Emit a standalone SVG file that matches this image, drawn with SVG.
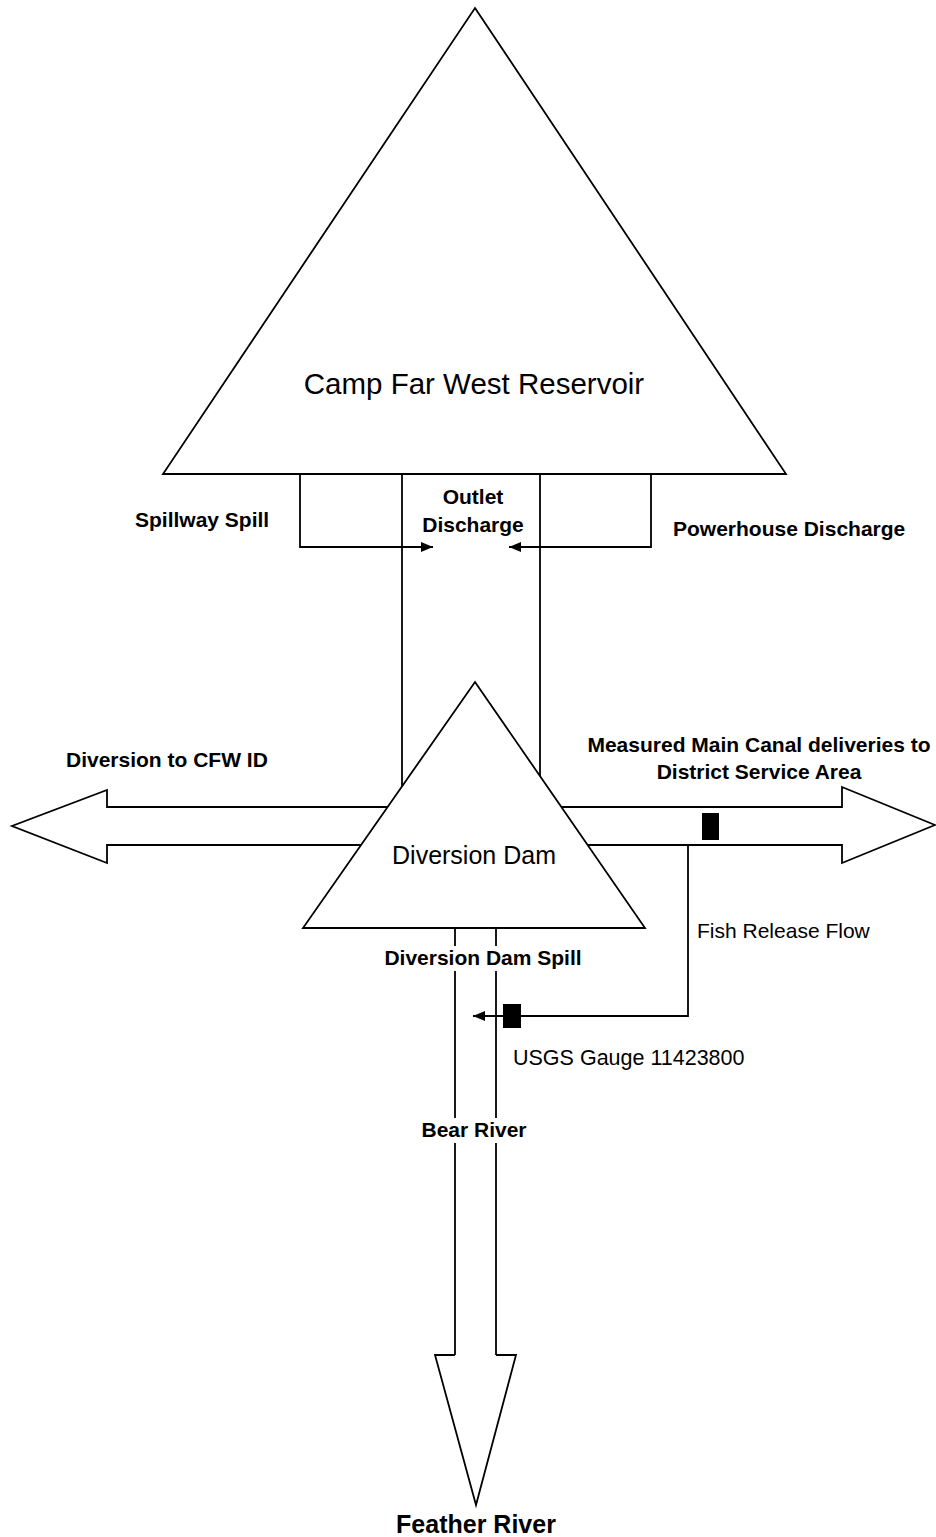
<svg xmlns="http://www.w3.org/2000/svg" width="936" height="1537" viewBox="0 0 936 1537">
<style>
.ln{fill:none;stroke:#000;stroke-width:1.8}
.sh{fill:#fff;stroke:#000;stroke-width:1.8}
.b{font-family:"Liberation Sans",Arial,sans-serif;font-weight:bold;font-size:21px;fill:#000}
.r{font-family:"Liberation Sans",Arial,sans-serif;font-size:21px;fill:#000}
</style>
<defs>
<marker id="ah" viewBox="0 0 12 10" refX="12" refY="5" markerWidth="12" markerHeight="10" markerUnits="userSpaceOnUse" orient="auto">
<path d="M0,0 L12,5 L0,10 z" fill="#000"/>
</marker>
</defs>
<rect width="936" height="1537" fill="#fff"/>
<g id="connectors">
<path class="ln" d="M300,474 V547 H433" marker-end="url(#ah)"/>
<path class="ln" d="M651,474 V547 H509" marker-end="url(#ah)"/>
<path class="ln" d="M402,474 V786"/>
<path class="ln" d="M540,474 V776"/>
<path class="sh" d="M387,807 H107 V790 L12,826 L107,863 V845 H362"/>
<path class="sh" d="M561,807 H842 V787 L935,825 L842,863 V845 H588"/>
<path class="ln" d="M688,845 V1016 H473" marker-end="url(#ah)"/>
<path class="ln" d="M455,928 V946 M455,971 V1118 M455,1143 V1355"/>
<path class="ln" d="M496,928 V946 M496,971 V1118 M496,1143 V1355"/>
<path class="sh" d="M455,1355 H435 L476,1505 L516,1355 H496"/>
</g>
<g id="reservoir">
<polygon class="sh" points="475,8 786,474 163,474"/>
<text class="r" x="474" y="394" text-anchor="middle" style="font-size:29.5px">Camp Far West Reservoir</text>
</g>
<g id="diversion-dam">
<polygon class="sh" points="475,682 645,928 303,928"/>
<text class="r" x="474" y="864" text-anchor="middle" style="font-size:25px">Diversion Dam</text>
</g>
<g id="gauge-canal">
<rect x="702" y="813" width="17" height="27" fill="#000"/>
</g>
<g id="gauge-usgs">
<rect x="503" y="1004" width="18" height="24" fill="#000"/>
</g>
<g id="labels">
<text class="b" x="135" y="527">Spillway Spill</text>
<text class="b" x="473" y="504" text-anchor="middle">Outlet</text>
<text class="b" x="473" y="532" text-anchor="middle">Discharge</text>
<text class="b" x="673" y="536">Powerhouse Discharge</text>
<text class="b" x="66" y="767">Diversion to CFW ID</text>
<text class="b" x="759" y="752" text-anchor="middle">Measured Main Canal deliveries to</text>
<text class="b" x="759" y="779" text-anchor="middle">District Service Area</text>
<text class="r" x="697" y="938">Fish Release Flow</text>
<text class="b" x="483" y="965" text-anchor="middle">Diversion Dam Spill</text>
<text class="r" x="513" y="1065" style="font-size:21.5px">USGS Gauge 11423800</text>
<text class="b" x="474" y="1137" text-anchor="middle">Bear River</text>
<text class="b" x="476" y="1533" text-anchor="middle" style="font-size:25px">Feather River</text>
</g>
</svg>
